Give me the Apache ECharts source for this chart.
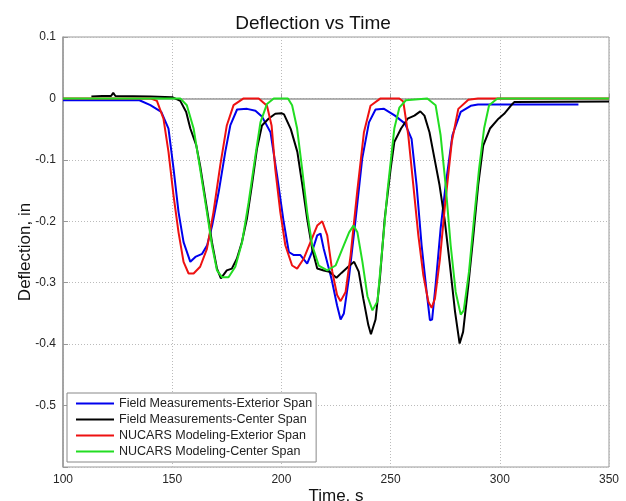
<!DOCTYPE html>
<html>

<head>
    <meta charset="utf-8">
    <title>Deflection vs Time</title>
</head>

<body style="margin:0px">
    <div id="main" style="width: 626px; height: 501px;"></div>
    <script type="text/javascript" src="https://cdn.jsdelivr.net/npm/echarts@6.0.0/dist/echarts.min.js"></script>
    <script type="text/javascript">
        // [time s, deflection in]
        var fieldExterior = [
            [100, -0.003], [135, -0.003], [140, -0.011], [145, -0.022], [148.3, -0.049], [150.6, -0.114],
            [152.9, -0.185], [155.2, -0.234], [158.3, -0.266], [160.6, -0.258], [163.7, -0.253], [166, -0.239],
            [168.3, -0.207], [171.3, -0.152], [174.3, -0.087], [176.6, -0.044], [179.7, -0.018], [184.3, -0.017],
            [188.1, -0.02], [191.2, -0.03], [195, -0.055], [198, -0.125], [201, -0.2], [203.4, -0.25],
            [205.7, -0.255], [208.7, -0.255], [211.8, -0.269], [214, -0.25], [216.4, -0.223], [217.9, -0.22],
            [219.4, -0.245], [222.9, -0.293], [225.5, -0.337], [227.1, -0.36], [228.6, -0.35], [230.9, -0.293],
            [234, -0.196], [237, -0.098], [240.1, -0.039], [243.1, -0.018], [247, -0.017], [252, -0.028],
            [256.6, -0.041], [259.6, -0.066], [261.9, -0.141], [264.2, -0.239], [266.5, -0.315], [268, -0.361],
            [269, -0.36], [270.6, -0.304], [272.9, -0.212], [275.2, -0.141], [278.3, -0.06], [282.1, -0.022],
            [286.7, -0.012], [290, -0.01], [336, -0.01]
        ];
        var fieldCenter = [
            [113, 0.003], [118, 0.004], [122, 0.004], [123, 0.009], [124, 0.004], [140, 0.003], [150, 0.002],
            [153.7, -0.004], [156.4, -0.022], [158.3, -0.049], [161, -0.076], [162.8, -0.11], [165.9, -0.18],
            [168.2, -0.234], [170.5, -0.277], [172.3, -0.293], [175, -0.28], [177.3, -0.277], [179.6, -0.261],
            [181.9, -0.234], [184.2, -0.196], [186.5, -0.141], [188.8, -0.082], [191.1, -0.044], [194.1, -0.033],
            [197.2, -0.025], [200, -0.024], [201.2, -0.026], [204.3, -0.05], [207.3, -0.087], [209.6, -0.141],
            [211.8, -0.196], [214.1, -0.245], [216.4, -0.277], [219.4, -0.28], [222, -0.282], [225.2, -0.292],
            [227.5, -0.284], [230.6, -0.274], [233.3, -0.266], [235.4, -0.282], [237.5, -0.326], [239.8, -0.369],
            [241, -0.384], [243.1, -0.36], [245.1, -0.293], [247.3, -0.196], [250, -0.115], [251.7, -0.071],
            [254.8, -0.049], [257.8, -0.033], [260.9, -0.028], [263.6, -0.021], [265.5, -0.028], [267.8, -0.055],
            [270.1, -0.098], [272.4, -0.141], [274.7, -0.196], [277, -0.266], [279.5, -0.347], [281.6, -0.399],
            [283.2, -0.38], [285.6, -0.304], [287.9, -0.223], [290.1, -0.141], [292.4, -0.077], [295.5, -0.049],
            [299.4, -0.033], [302, -0.025], [305, -0.012], [306.6, -0.006], [350, -0.005]
        ];
        var nucarsExterior = [
            [100, 0], [140, 0], [143, -0.004], [146, -0.033], [148.3, -0.087], [150.6, -0.158], [152.9, -0.218],
            [155.2, -0.266], [157.5, -0.285], [159.8, -0.285], [162.8, -0.274], [165.9, -0.245], [168.9, -0.185],
            [172, -0.109], [175, -0.044], [178.1, -0.011], [182.7, 0], [189.6, 0], [193.4, -0.012], [195.5, -0.044],
            [197.2, -0.115], [199.5, -0.185], [201.8, -0.239], [204.9, -0.272], [207.2, -0.277], [210.2, -0.261],
            [213.3, -0.234], [216.4, -0.207], [218.7, -0.2], [221, -0.223], [223.3, -0.282], [225.5, -0.32],
            [227.1, -0.33], [229.4, -0.315], [231.7, -0.255], [234.7, -0.152], [237.8, -0.055], [240.8, -0.012],
            [245.4, 0], [254, 0], [255.8, -0.005], [258.1, -0.06], [260.4, -0.141], [262.7, -0.223], [265, -0.288],
            [267.3, -0.331], [268.8, -0.341], [270.3, -0.326], [272.6, -0.261], [274.9, -0.174], [278, -0.071],
            [281, -0.017], [285.6, -0.002], [290, 0], [350, 0]
        ];
        var nucarsCenter = [
            [100, 0], [153.7, 0], [156.7, -0.011], [159.8, -0.049], [162.8, -0.115], [165.9, -0.185],
            [168.2, -0.239], [170.5, -0.28], [172.8, -0.291], [175.8, -0.291], [178.9, -0.274], [182, -0.234],
            [185, -0.169], [188.1, -0.093], [190.4, -0.039], [193.4, -0.009], [196.5, 0], [203, 0], [204.9, -0.011],
            [207.2, -0.049], [209.5, -0.115], [211.8, -0.185], [214.1, -0.239], [217.1, -0.272], [221, -0.28],
            [224.8, -0.272], [227.9, -0.245], [231, -0.218], [233, -0.207], [234.8, -0.218], [237.1, -0.266],
            [239.4, -0.322], [241.7, -0.345], [244, -0.33], [246.3, -0.24], [248.6, -0.15], [251.7, -0.049],
            [254, -0.015], [257, -0.003], [266.8, 0], [270.6, -0.011], [272.9, -0.06], [275.2, -0.141],
            [277.5, -0.239], [279.8, -0.315], [282.1, -0.352], [283.5, -0.345], [285.9, -0.282], [288.2, -0.196],
            [290.5, -0.115], [292.8, -0.049], [295.1, -0.011], [298.9, 0], [350, 0]
        ];
        var seriesNames = [
            'Field Measurements-Exterior Span',
            'Field Measurements-Center Span',
            'NUCARS Modeling-Exterior Span',
            'NUCARS Modeling-Center Span'
        ];
        var seriesColors = ['#0000ee', '#000000', '#ee1111', '#22dd22'];
        var seriesData = [fieldExterior, fieldCenter, nucarsExterior, nucarsCenter];

        var font = 'Liberation Sans, Arial, sans-serif';
        var series = seriesData.map(function (d, i) {
            return {
                name: seriesNames[i],
                type: 'line',
                data: d,
                symbol: 'none',
                animation: false,
                lineStyle: { color: seriesColors[i], width: 2 },
                itemStyle: { color: seriesColors[i] }
            };
        });

        var myChart = echarts.init(document.getElementById('main'));
        myChart.setOption({
            animation: false,
            backgroundColor: '#fff',
            title: {
                text: 'Deflection vs Time',
                left: 'center',
                top: 9,
                textStyle: { fontFamily: font, fontSize: 19, fontWeight: 'normal', color: '#111' }
            },
            legend: {
                data: seriesNames,
                orient: 'vertical',
                left: 67,
                top: 393,
                itemWidth: 38,
                itemHeight: 13,
                itemGap: 3,
                padding: [4, 4, 4, 8],
                borderColor: '#888',
                borderWidth: 1,
                backgroundColor: '#fff',
                // line only, no marker in the key
                itemStyle: { opacity: 0 },
                textStyle: { fontFamily: font, fontSize: 12.5, color: '#222' }
            },
            grid: {
                left: 63, right: 17, top: 37, bottom: 34,
                outerBoundsMode: 'none',
                show: true, borderColor: '#999', borderWidth: 1
            },
            xAxis: {
                type: 'value',
                min: 100, max: 350, interval: 50,
                name: 'Time, s',
                nameLocation: 'middle',
                nameGap: 21,
                nameMoveOverlap: false,
                nameTextStyle: { fontFamily: font, fontSize: 17, color: '#111' },
                axisLine: { lineStyle: { color: '#999', width: 1.5 } },
                axisTick: { inside: true, length: 5, lineStyle: { color: '#999' } },
                axisLabel: { fontFamily: font, fontSize: 12, color: '#262626', margin: 7 },
                splitLine: { show: true, lineStyle: { color: '#bbb', type: [1, 2] } }
            },
            yAxis: {
                type: 'value',
                min: -0.6, max: 0.1, interval: 0.1,
                name: 'Deflection, in',
                nameLocation: 'middle',
                nameGap: 29,
                nameMoveOverlap: false,
                nameTextStyle: { fontFamily: font, fontSize: 17, color: '#111' },
                axisLine: { show: true, lineStyle: { color: '#999', width: 1.5 } },
                axisTick: { show: true, inside: true, length: 5, lineStyle: { color: '#999' } },
                axisLabel: {
                    fontFamily: font, fontSize: 12, color: '#262626', margin: 7,
                    formatter: function (v) {
                        if (Math.abs(v + 0.6) < 1e-9) return '';
                        return String(Math.round(v * 10) / 10);
                    }
                },
                splitLine: { show: true, lineStyle: { color: '#bbb', type: [1, 2] } }
            },
            series: series
        });
    </script>
</body>

</html>
